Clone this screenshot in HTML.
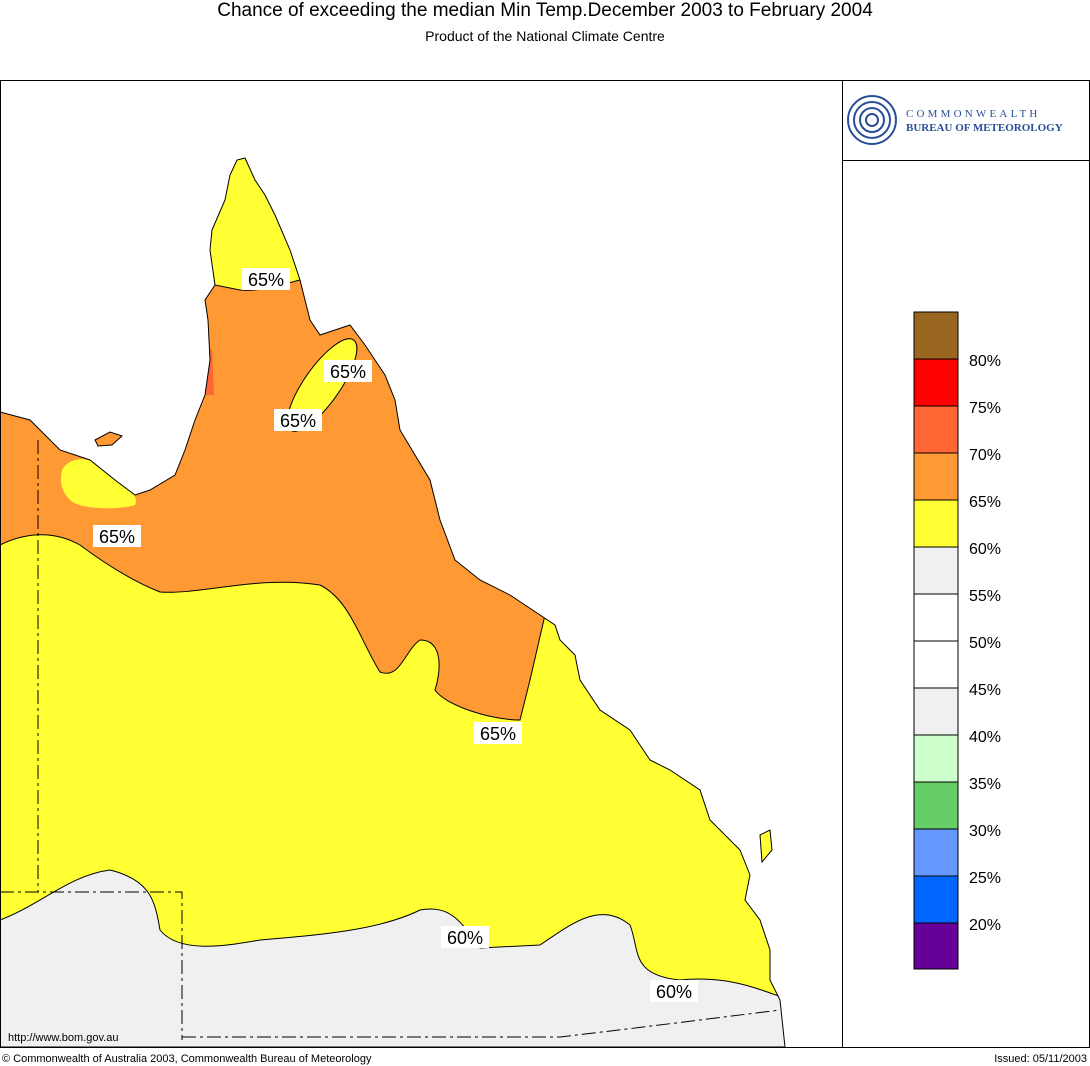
<!DOCTYPE html>
<html><head><meta charset="utf-8"><style>
body{margin:0;width:1090px;height:1066px;background:#fff;font-family:"Liberation Sans",Arial,sans-serif;position:relative;overflow:hidden}
.t{position:absolute;left:0;width:1090px;text-align:center}
</style></head><body>
<div class="t" style="top:0;font-size:19px">Chance of exceeding the median Min Temp.December 2003 to February 2004</div>
<div class="t" style="top:28px;font-size:14px">Product of the National Climate Centre</div>
<svg width="1090" height="1066" style="position:absolute;left:0;top:0" font-family="Liberation Sans, Arial, sans-serif">
<defs><clipPath id="land"><polygon id="lp" points="0,412 30,420 60,450 90,460 115,480 135,495 150,490 175,475 185,450 195,420 205,395 210,360 208,320 205,300 215,285 210,250 212,230 225,200 230,175 237,160 245,158 255,180 265,195 275,215 290,250 300,280 310,320 320,335 350,325 365,345 385,375 395,400 400,430 415,455 430,480 440,520 455,560 480,580 510,595 540,615 555,625 560,640 575,655 580,680 600,710 630,730 650,760 670,770 700,790 710,820 740,850 750,875 745,900 760,920 770,950 770,980 780,1000 785,1047 0,1047"/></clipPath></defs>
<g clip-path="url(#land)">
<rect x="0" y="0" width="842" height="1047" fill="#ff9933"/>
<path d="M0,545 C20,535 50,528 80,545 C100,560 130,580 160,592 C200,595 260,575 320,585 C350,600 360,640 380,672 C400,680 405,650 420,640 C445,640 440,675 435,690 C445,705 490,720 520,720 L530,680 L545,615 L800,615 L800,1047 L0,1047Z" fill="#ffff33"/>
<path d="M0,920 C40,905 70,875 110,870 C150,880 155,900 160,930 C180,955 230,945 260,940 C320,935 380,930 420,910 C450,905 460,920 480,948 L540,945 C570,925 600,900 630,925 C640,950 630,975 680,980 C730,975 760,990 790,1000 L800,1047 L0,1047Z" fill="#f0f0f0"/>
<path d="M190,140 L300,140 L300,280 C280,285 260,292 240,290 L215,285 L190,285Z" fill="#ffff33"/>
<ellipse cx="322" cy="385" rx="55" ry="18" transform="rotate(-55 322 385)" fill="#ffff33" stroke="#000" stroke-width="1"/>
<path d="M62,470 C70,455 95,455 110,475 C125,485 140,495 135,505 C120,510 80,510 70,500 C60,490 60,480 62,470Z" fill="#ffff33"/>
<path d="M204,345 L212,350 L214,395 L204,395Z" fill="#ff6633"/>
<path d="M0,545 C20,535 50,528 80,545 C100,560 130,580 160,592 C200,595 260,575 320,585 C350,600 360,640 380,672 C400,680 405,650 420,640 C445,640 440,675 435,690 C445,705 490,720 520,720 L530,680 L545,615" fill="none" stroke="#000"/>
<path d="M0,920 C40,905 70,875 110,870 C150,880 155,900 160,930 C180,955 230,945 260,940 C320,935 380,930 420,910 C450,905 460,920 480,948 L540,945 C570,925 600,900 630,925 C640,950 630,975 680,980 C730,975 760,990 790,1000" fill="none" stroke="#000"/>
<path d="M215,285 L240,290 C260,292 280,285 300,280" fill="none" stroke="#000"/>
</g>
<use href="#lp" fill="none" stroke="#000" stroke-width="1"/>
<path d="M95,440 L110,432 L122,436 L112,445 L98,446Z" fill="#ff9933" stroke="#000"/>
<path d="M760,835 L770,830 L772,850 L762,862Z" fill="#ffff33" stroke="#000"/>
<g fill="none" stroke="#000" stroke-dasharray="14,4,3,4">
<path d="M38,440 L38,892 M0,892 L182,892 L182,1040 M182,1037 L560,1037 C620,1030 700,1020 780,1010"/>
</g>
<g font-size="18" text-anchor="middle">
<rect x="242" y="268" width="48" height="22" fill="#fff"/><text x="266" y="286">65%</text>
<rect x="324" y="360" width="48" height="22" fill="#fff"/><text x="348" y="378">65%</text>
<rect x="274" y="409" width="48" height="22" fill="#fff"/><text x="298" y="427">65%</text>
<rect x="93" y="525" width="48" height="22" fill="#fff"/><text x="117" y="543">65%</text>
<rect x="474" y="722" width="48" height="22" fill="#fff"/><text x="498" y="740">65%</text>
<rect x="441" y="926" width="48" height="22" fill="#fff"/><text x="465" y="944">60%</text>
<rect x="650" y="980" width="48" height="22" fill="#fff"/><text x="674" y="998">60%</text>
</g>
<text x="8" y="1041" font-size="11">http://www.bom.gov.au</text>
<rect x="0.5" y="80.5" width="1089" height="967" fill="none" stroke="#000"/>
<line x1="842.5" y1="80" x2="842.5" y2="1047" stroke="#000"/>
<line x1="842" y1="160.5" x2="1090" y2="160.5" stroke="#000"/>
<g stroke="#2a4f9a" stroke-width="2" fill="none">
<circle cx="872" cy="120" r="24"/><circle cx="872" cy="120" r="18"/><circle cx="872" cy="120" r="12"/><circle cx="872" cy="120" r="6"/>
</g>
<text x="906" y="117" font-size="11" fill="#2a4f9a" letter-spacing="3.2" font-family="Liberation Serif, serif">COMMONWEALTH</text>
<text x="906" y="131" font-size="11" fill="#2a4f9a" font-weight="bold" font-family="Liberation Serif, serif">BUREAU OF METEOROLOGY</text>
<g stroke="#000" stroke-width="1">
<rect x="914" y="312" width="44" height="47" fill="#996622"/>
<rect x="914" y="359" width="44" height="47" fill="#ff0000"/>
<rect x="914" y="406" width="44" height="47" fill="#ff6633"/>
<rect x="914" y="453" width="44" height="47" fill="#ff9933"/>
<rect x="914" y="500" width="44" height="47" fill="#ffff33"/>
<rect x="914" y="547" width="44" height="47" fill="#f0f0f0"/>
<rect x="914" y="594" width="44" height="47" fill="#ffffff"/>
<rect x="914" y="641" width="44" height="47" fill="#ffffff"/>
<rect x="914" y="688" width="44" height="47" fill="#f0f0f0"/>
<rect x="914" y="735" width="44" height="47" fill="#ccffcc"/>
<rect x="914" y="782" width="44" height="47" fill="#66cc66"/>
<rect x="914" y="829" width="44" height="47" fill="#6699ff"/>
<rect x="914" y="876" width="44" height="47" fill="#0066ff"/>
<rect x="914" y="923" width="44" height="46" fill="#660099"/>
</g>
<g font-size="16">
<text x="969" y="366">80%</text><text x="969" y="413">75%</text><text x="969" y="460">70%</text><text x="969" y="507">65%</text><text x="969" y="554">60%</text><text x="969" y="601">55%</text><text x="969" y="648">50%</text><text x="969" y="695">45%</text><text x="969" y="742">40%</text><text x="969" y="789">35%</text><text x="969" y="836">30%</text><text x="969" y="883">25%</text><text x="969" y="930">20%</text>
</g>
<text x="2" y="1062" font-size="11">© Commonwealth of Australia 2003, Commonwealth Bureau of Meteorology</text>
<text x="1087" y="1062" font-size="11" text-anchor="end">Issued: 05/11/2003</text>
</svg>
</body></html>
